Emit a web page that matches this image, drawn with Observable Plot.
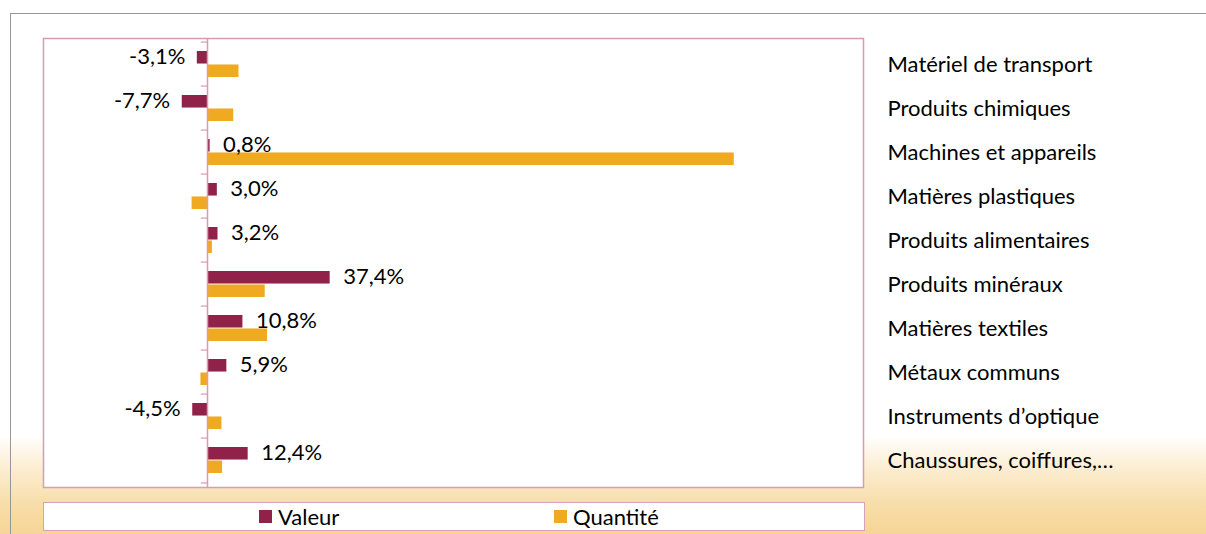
<!DOCTYPE html>
<html>
<head>
<meta charset="utf-8">
<script src="https://cdn.jsdelivr.net/npm/d3@7"></script>
<script src="https://cdn.jsdelivr.net/npm/@observablehq/plot@0.6"></script>
<style>
  html, body { margin: 0; padding: 0; }
  #wrap {
    position: relative; width: 1206px; height: 534px; overflow: hidden;
    background: linear-gradient(to bottom, #ffffff 0px, #ffffff 435px, #fcefd6 465px, #f8deab 502px, #f6d596 534px);
    font-family: Lato, "Open Sans", sans-serif; color: #000;
  }
  #border { position: absolute; left: 10px; top: 13px; width: 1300px; height: 600px; border-left: 1.5px solid #969696; border-top: 1.5px solid #969696; box-sizing: border-box; }
  #chart { position: absolute; left: 0; top: 0; }
  #legend {
    position: absolute; left: 43px; top: 502px; width: 822px; height: 29px; box-sizing: border-box;
    background: #fff; border: 1.5px solid #d9a0b8;
  }
  .li { position: absolute; top: 0; height: 27px; display: flex; align-items: center; font-size: 22px; }
  .sw { width: 13px; height: 13px; margin-right: 6px; }
</style>
</head>
<body>
<div id="wrap">
  <div id="border"></div>
  <div id="chart"></div>
  <div id="legend"></div>
</div>
<script>
const categories = [
  "Matériel de transport",
  "Produits chimiques",
  "Machines et appareils",
  "Matières plastiques",
  "Produits alimentaires",
  "Produits minéraux",
  "Matières textiles",
  "Métaux communs",
  "Instruments d’optique",
  "Chaussures, coiffures,…"
];
const valeur   = [-3.1, -7.7, 0.8, 3.0, 3.2, 37.4, 10.8, 5.9, -4.5, 12.4];
const quantite = [9.6, 8.0, 160.6, -4.7, 1.5, 17.6, 18.3, -2.0, 4.4, 4.6];
const seriesNames = ["Valeur", "Quantité"];
const seriesColors = ["#902249", "#f0aa22"];

const rows = categories.map((c, i) => ({cat: c, val: valeur[i], qty: quantite[i]}));
const fmt = v => v.toFixed(1).replace(".", ",") + "%";

const W = 1206, H = 534, mT = 38, mB = 47, mL = 43, mR = 343;
const step = (H - mT - mB) / categories.length;
const padIn = 0.4;
const half = step * (1 - padIn) / 2;
const pink = "#d99ab4";

const chart = Plot.plot({
  width: W, height: H,
  marginTop: mT, marginBottom: mB, marginLeft: mL, marginRight: mR,
  style: {background: "transparent", fontFamily: "Lato, 'Open Sans', sans-serif", fontSize: "22px", color: "#000"},
  x: {domain: [-50, 200], axis: null},
  y: {domain: categories, paddingInner: padIn, paddingOuter: padIn / 2, axis: "right", tickSize: 0, tickPadding: 24, label: null},
  marks: [
    Plot.frame({fill: "white", stroke: null}),
    Plot.barX(rows, {y: "cat", x: "val", fill: seriesColors[0], insetBottom: half}),
    Plot.barX(rows, {y: "cat", x: "qty", fill: seriesColors[1], insetTop: half}),
    Plot.ruleX([0], {stroke: pink, strokeWidth: 1.5}),
    Plot.ruleY(categories, {y: d => d, x1: -1.9, x2: 0, dy: -step / 2, stroke: pink, strokeWidth: 1.2}),
    Plot.ruleY(categories.slice(-1), {y: d => d, x1: -1.9, x2: 0, dy: step / 2, stroke: pink, strokeWidth: 1.2}),
    Plot.text(rows.filter(d => d.val >= 0), {x: "val", y: "cat", text: d => fmt(d.val), textAnchor: "start", dx: 13, dy: -8, fill: "#000"}),
    Plot.text(rows.filter(d => d.val < 0), {x: "val", y: "cat", text: d => fmt(d.val), textAnchor: "end", dx: -12, dy: -8, fill: "#000"}),
    Plot.frame({stroke: pink, strokeWidth: 1.5})
  ]
});
document.getElementById("chart").appendChild(chart);

const legend = document.getElementById("legend");
const legendX = [215, 510];
seriesNames.forEach((name, i) => {
  const item = document.createElement("div");
  item.className = "li";
  item.style.left = legendX[i] + "px";
  const sw = document.createElement("span");
  sw.className = "sw";
  sw.style.background = seriesColors[i];
  const t = document.createElement("span");
  t.textContent = name;
  item.appendChild(sw);
  item.appendChild(t);
  legend.appendChild(item);
});
</script>
</body>
</html>
